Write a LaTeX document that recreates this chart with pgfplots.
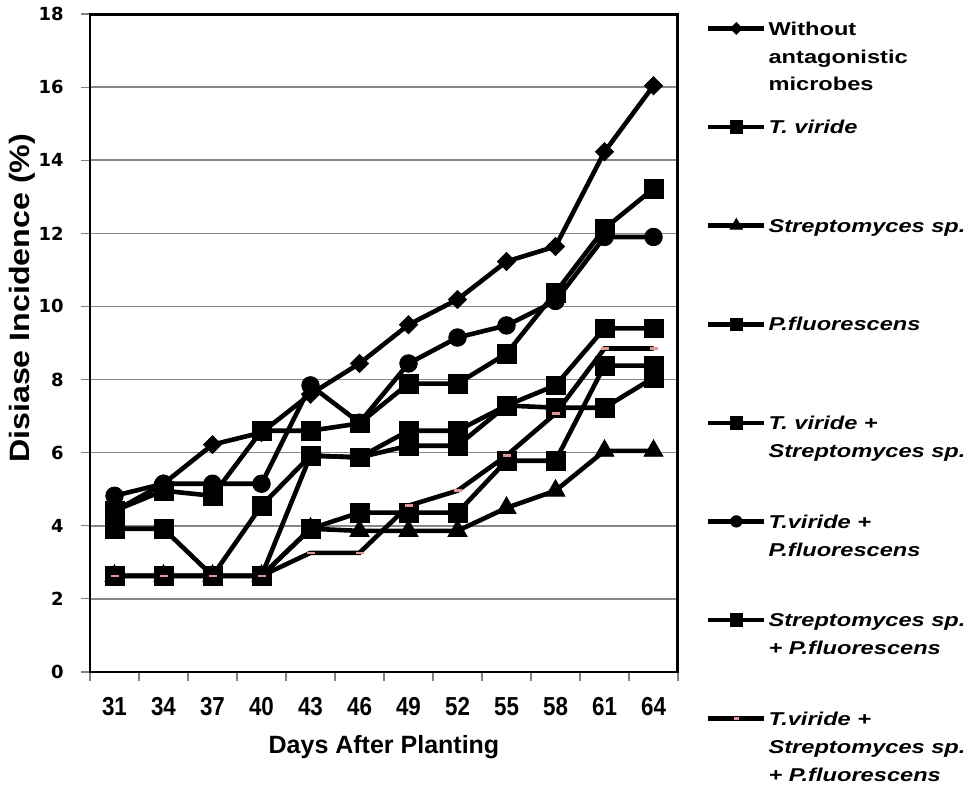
\documentclass[border=0pt]{standalone}
\usepackage{pgfplots}
\pgfplotsset{compat=1.18}
\usepackage{fontspec}
\setmainfont{Liberation Sans}
\newfontfamily\xtfont{Liberation Sans}[FakeStretch=0.86]
\newfontfamily\ytfont{DejaVu Sans}
\newfontfamily\legfont{Liberation Sans}[FakeStretch=1.27]
\newfontfamily\ylfont{Liberation Sans}[FakeStretch=1.15]
\definecolor{dashpink}{RGB}{222,150,150}
\definecolor{gridgray}{RGB}{134,134,134}
\newcommand{\legtxt}[1]{\raisebox{0pt}[8.4pt][0pt]{\parbox[t]{110pt}{\raggedright\legfont\bfseries\fontsize{9.3}{14}\selectfont #1}}}

\pgfplotstableread{
x  wo     tv     st    pf    tvst  tvpf   stpf  all
0  4.40   4.41   2.63  2.63  3.92  4.82   2.63  2.63
1  5.15   4.96   2.63  2.63  3.92  5.15   2.63  2.63
2  6.22   4.82   2.63  2.63  2.63  5.15   2.63  2.63
3  6.55   6.60   2.63  2.63  4.55  5.15   2.63  2.63
4  7.60   6.60   3.92  3.92  5.92  7.84   5.92  3.26
5  8.44   6.80   3.86  4.36  5.87  6.82   5.87  3.26
6  9.50   7.89   3.86  4.36  6.60  8.44   6.19  4.55
7  10.19  7.89   3.86  4.36  6.60  9.15   6.19  4.96
8  11.23  8.71   4.49  5.78  7.29  9.48   7.29  5.92
9  11.64  10.38  4.96  5.78  7.84  10.15  7.23  7.07
10 14.23  12.13  6.05  8.38  9.40  11.90  7.23  8.85
11 16.04  13.22  6.05  8.38  9.40  11.90  8.05  8.85
}\datatable

\begin{document}
\begin{tikzpicture}
\useasboundingbox (-45pt,-60pt) rectangle (439.5pt,336pt);
\begin{axis}[
  at={(0pt,0pt)}, anchor=south west,
  scale only axis, width=294pt, height=329pt,
  xmin=-0.5, xmax=11.5, ymin=0, ymax=18,
  xtick={-0.5,0.5,...,11.5},
  xticklabels={31,34,37,40,43,46,49,52,55,58,61,64,{}},
  ytick={0,2,...,18},
  tick pos=left, tick align=outside, major tick length=4.5pt,
  tick style={gray, line width=0.6pt},
  ymajorgrids, grid style={gridgray, line width=0.8pt},
  axis line style={black, line width=1.4pt},
  xticklabel style={font=\xtfont\bfseries\fontsize{13}{14}\selectfont, anchor=center, xshift=12.25pt, yshift=-13pt, inner sep=0pt},
  yticklabel style={font=\ytfont\bfseries\fontsize{9}{10}\selectfont, anchor=east, xshift=-8.5pt, inner sep=0pt},
  /pgf/number format/assume math mode=true,
  xlabel={Days After Planting},
  xlabel style={at={(axis description cs:0.5,-0.114)}, anchor=center, font=\bfseries\fontsize{12.5}{14}\selectfont},
  ylabel={Disiase Incidence (\%)},
  ylabel style={at={(axis description cs:-0.116,0.568)}, anchor=center, font=\ylfont\bfseries\fontsize{14}{16}\selectfont},
  every axis plot/.append style={black, line width=2.3pt},
  legend image code/.code={\draw[mark repeat=2,mark phase=2] plot coordinates {(0pt,0pt) (14pt,0pt) (28pt,0pt)};},
  legend image post style={yshift=3.3pt, /tikz/every mark/.append style={scale=0.65}},
  legend style={at={(axis description cs:1,1)}, anchor=north west, xshift=14pt, yshift=-2.1pt,
    draw=none, fill=none, inner sep=0pt, outer sep=0pt, row sep=39.4pt, column sep=1pt,
    cells={anchor=base west}, nodes={inner sep=0pt}},
]
\addplot[mark=square*, mark size=3.2pt, mark options={rotate=45, fill=black, line width=0.4pt}] table[x=x,y=wo] {\datatable};
\addlegendentry{\legtxt{Without\newline antagonistic\newline microbes}}
\addplot[mark=square*, mark size=4.7pt, mark options={fill=black, line width=0.4pt}] table[x=x,y=tv] {\datatable};
\addlegendentry{\legtxt{\itshape T. viride}}
\addplot[mark=triangle*, mark size=5.5pt, mark options={fill=black, line width=0.4pt}] table[x=x,y=st] {\datatable};
\addlegendentry{\legtxt{\itshape Streptomyces sp.}}
\addplot[mark=square*, mark size=4.7pt, mark options={fill=black, line width=0.4pt}] table[x=x,y=pf] {\datatable};
\addlegendentry{\legtxt{\itshape P.fluorescens}}
\addplot[mark=square*, mark size=4.7pt, mark options={fill=black, line width=0.4pt}] table[x=x,y=tvst] {\datatable};
\addlegendentry{\legtxt{\itshape T. viride +\newline Streptomyces sp.}}
\addplot[mark=*, mark size=4.4pt, mark options={fill=black, line width=0.4pt}] table[x=x,y=tvpf] {\datatable};
\addlegendentry{\legtxt{\itshape T.viride +\newline P.fluorescens}}
\addplot[mark=square*, mark size=4.7pt, mark options={fill=black, line width=0.4pt}] table[x=x,y=stpf] {\datatable};
\addlegendentry{\legtxt{\itshape Streptomyces sp.\newline + P.fluorescens}}
\addplot[mark=-, mark size=2pt, mark options={draw=dashpink, line width=1.2pt}] table[x=x,y=all] {\datatable};
\addlegendentry{\legtxt{\itshape T.viride +\newline Streptomyces sp.\newline + P.fluorescens}}
\draw[black, line width=2.4pt] (rel axis cs:0,1) -- (rel axis cs:1,1) -- (rel axis cs:1,0);
\end{axis}
\end{tikzpicture}
\end{document}
